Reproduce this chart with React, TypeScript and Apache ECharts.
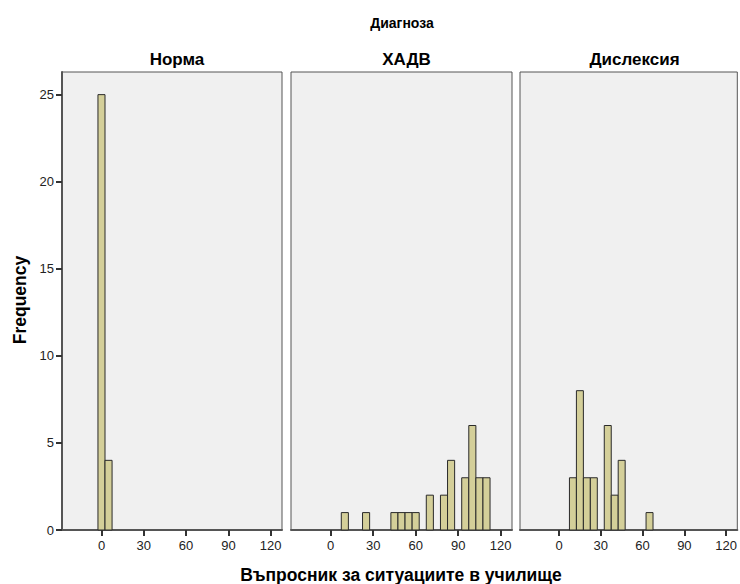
import React, { useEffect, useRef } from "react";
import * as echarts from "echarts";

const panelTitles = ["Норма", "ХАДВ", "Дислексия"];
const normaBins = [0, 5];
const normaCounts = [25, 4];
const hadvBins = [10, 25, 45, 50, 55, 60, 70, 80, 85, 95, 100, 105, 110];
const hadvCounts = [1, 1, 1, 1, 1, 1, 2, 2, 4, 3, 6, 3, 3];
const dysBins = [10, 15, 20, 25, 35, 40, 45, 65];
const dysCounts = [3, 8, 3, 3, 6, 2, 4, 1];
const xTicks = [0, 30, 60, 90, 120];
const yTicks = [0, 5, 10, 15, 20, 25];
const binWidth = 5;

const FONT = "Liberation Sans, Arial, sans-serif";

export default function App() {
  const ref = useRef<HTMLDivElement>(null);
  useEffect(() => {
    if (!ref.current) return;
    const chart = echarts.init(ref.current, undefined, { renderer: "svg" });
    const grids = [
      { left: 62, width: 220 },
      { left: 291, width: 221 },
      { left: 520, width: 219 },
    ];
    const datasets = [
      normaBins.map((b, i) => [b, normaCounts[i]]),
      hadvBins.map((b, i) => [b, hadvCounts[i]]),
      dysBins.map((b, i) => [b, dysCounts[i]]),
    ];
    const renderItem = (params: any, api: any) => {
      const x = api.value(0);
      const y = api.value(1);
      const p0 = api.coord([x - binWidth / 2, y]);
      const p1 = api.coord([x + binWidth / 2, 0]);
      return {
        type: "rect",
        shape: { x: p0[0], y: p0[1], width: p1[0] - p0[0], height: p1[1] - p0[1] },
        style: { fill: "#d4cf99", stroke: "#2a2a2a", lineWidth: 1 },
      };
    };
    chart.setOption({
      animation: false,
      backgroundColor: "#ffffff",
      title: [
        {
          text: "Диагноза",
          left: 397,
          top: 11,
          textAlign: "center",
          textStyle: { fontFamily: FONT, fontSize: 14, fontWeight: "bold", color: "#000" },
        },
        ...panelTitles.map((t, i) => ({
          text: t,
          left: grids[i].left + grids[i].width / 2,
          top: 46,
          textAlign: "center",
          textStyle: { fontFamily: FONT, fontSize: 17, fontWeight: "bold", color: "#000" },
        })),
      ],
      graphic: [
        {
          type: "text",
          x: 401,
          y: 575,
          style: {
            text: "Въпросник за ситуациите в училище",
            fontFamily: FONT,
            fontSize: 17.5,
            fontWeight: "bold",
            fill: "#000",
            align: "center",
            verticalAlign: "middle",
          },
        },
        {
          type: "text",
          x: 20,
          y: 300,
          rotation: Math.PI / 2,
          style: {
            text: "Frequency",
            fontFamily: FONT,
            fontSize: 17.5,
            fontWeight: "bold",
            fill: "#000",
            align: "center",
            verticalAlign: "middle",
          },
        },
      ],
      grid: grids.map((g) => ({
        left: g.left,
        width: g.width,
        top: 72,
        height: 458,
        show: true,
        backgroundColor: "#f0f0f0",
        borderColor: "#555555",
        borderWidth: 1,
      })),
      xAxis: grids.map((g, i) => ({
        type: "value",
        gridIndex: i,
        min: -28,
        max: 128,
        splitLine: { show: false },
        axisLine: { show: true, onZero: false, lineStyle: { color: "#555555", width: 2 } },
        axisTick: { show: true, length: 6, customValues: xTicks, lineStyle: { color: "#333", width: 2 } },
        axisLabel: {
          customValues: xTicks,
          fontFamily: FONT,
          fontSize: 13,
          color: "#222",
          margin: 9,
        },
      })),
      yAxis: grids.map((g, i) => ({
        type: "value",
        gridIndex: i,
        min: 0,
        max: 26.3,
        splitLine: { show: false },
        axisLine: { show: i === 0, onZero: false, lineStyle: { color: "#555555", width: 2 } },
        axisTick: { show: i === 0, length: 6, customValues: yTicks, lineStyle: { color: "#333", width: 2 } },
        axisLabel: {
          show: i === 0,
          customValues: yTicks,
          fontFamily: FONT,
          fontSize: 13,
          color: "#222",
          margin: 8,
        },
      })),
      series: datasets.map((d, i) => ({
        type: "custom",
        xAxisIndex: i,
        yAxisIndex: i,
        data: d,
        renderItem,
        encode: { x: 0, y: 1 },
      })),
    });
    return () => chart.dispose();
  }, []);
  return <div ref={ref} style={{ position: "fixed", left: 0, top: 0, width: 740, height: 584 }} />;
}
